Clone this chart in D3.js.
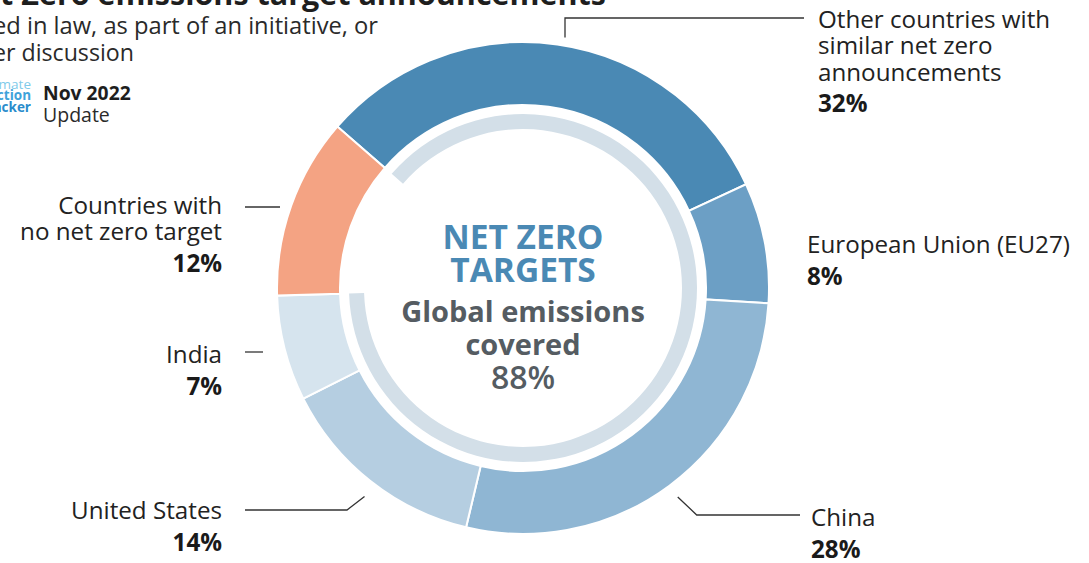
<!DOCTYPE html>
<html>
<head>
<meta charset="utf-8">
<script src="https://cdn.jsdelivr.net/npm/d3@7"></script>
<style>
  html, body { margin: 0; padding: 0; background: #fff; overflow: hidden; }
  svg { display: block; font-family: "Open Sans", "Noto Sans", sans-serif; }
</style>
</head>
<body>
<svg id="chart" width="1089" height="563"></svg>
<script>
// ---- data ----
const categories = ["Other countries with similar net zero announcements", "European Union (EU27)", "China", "United States", "India", "Countries with no net zero target"];
const values = [32, 8, 28, 14, 7, 12];
const covered = [true, true, true, true, true, false];
const coveredShare = 88;

// ---- styles ----
const colors = ["#4a89b4", "#6c9fc5", "#8fb6d3", "#b5cee1", "#d6e4ee", "#f4a383"];
const labelLines = [
  ["Other countries with", "similar net zero", "announcements"],
  ["European Union (EU27)"],
  ["China"],
  ["United States"],
  ["India"],
  ["Countries with", "no net zero target"]
];

const svg = d3.select("#chart");
const cx = 523, cy = 288;
const R = 246, r0 = 183;
const gR1 = 174, gR0 = 159;
const deg = Math.PI / 180;
const start = -49 * deg;

const pie = d3.pie().sort(null).value(d => d).startAngle(start).endAngle(start + 2 * Math.PI);
const arcs = pie(values);
const arc = d3.arc().innerRadius(r0).outerRadius(R);

const g = svg.append("g").attr("transform", `translate(${cx},${cy})`);

// grey inner ring covering the "covered" share
const coveredArcs = arcs.filter((a, i) => covered[i]);
const gStart = d3.min(coveredArcs, a => a.startAngle);
const gEnd = d3.max(coveredArcs, a => a.endAngle);
g.append("path")
  .attr("d", d3.arc().innerRadius(gR0).outerRadius(gR1).startAngle(gStart).endAngle(gEnd)())
  .attr("fill", "#d3dfe8");

g.selectAll("path.seg").data(arcs).join("path")
  .attr("class", "seg")
  .attr("d", arc)
  .attr("fill", (d, i) => colors[i])
  .attr("stroke", "#fff")
  .attr("stroke-width", 2);

// ---- title / subtitle (cropped at top-left, as in reference) ----
svg.append("text").attr("x", 606).attr("y", 5).attr("text-anchor", "end")
  .attr("font-size", 30.5).attr("font-weight", 700).attr("fill", "#1e1e1e")
  .text("Net Zero emissions target announcements");
svg.append("text").attr("x", 378).attr("y", 34).attr("text-anchor", "end")
  .attr("font-size", 23.7).attr("fill", "#2a2a2a")
  .text("Enshrined in law, as part of an initiative, or");
svg.append("text").attr("x", 134).attr("y", 61).attr("text-anchor", "end")
  .attr("font-size", 23.2).attr("fill", "#2a2a2a")
  .text("under discussion");

// logo
const logo = [["Climate", "#7fcbea", 400, 89], ["Action", "#3ea3da", 700, 100], ["Tracker", "#2a8ccc", 700, 111.5]];
logo.forEach(([t, c, w, y]) => {
  svg.append("text").attr("x", 31).attr("y", y).attr("text-anchor", "end")
    .attr("font-size", 13.5).attr("font-weight", w).attr("fill", c).text(t);
});
svg.append("text").attr("x", 43).attr("y", 100).attr("font-size", 19.3).attr("font-weight", 700).attr("fill", "#1e1e1e").text("Nov 2022");
svg.append("text").attr("x", 43).attr("y", 122).attr("font-size", 19.5).attr("fill", "#2a2a2a").text("Update");

// ---- center text ----
const ct = [
  ["NET ZERO", "#4a89b4", 700, 33.5, 249],
  ["TARGETS", "#4a89b4", 700, 33.5, 282],
  ["Global emissions", "#555c62", 700, 29, 322],
  ["covered", "#555c62", 700, 29, 355],
  [coveredShare + "%", "#555c62", 600, 32, 389]
];
ct.forEach(([t, c, w, s, y]) => {
  svg.append("text").attr("x", cx).attr("y", y).attr("text-anchor", "middle")
    .attr("font-size", s).attr("font-weight", w).attr("fill", c).text(t);
});

// ---- labels and leaders ----
const fs = 24.2, lh = 26.3;
const mid = a => (a.startAngle + a.endAngle) / 2;
const onRing = (a, rr) => [cx + Math.sin(mid(a)) * rr, cy - Math.cos(mid(a)) * rr];
const lineStyle = sel => sel.attr("fill", "none").attr("stroke", "#333").attr("stroke-width", 1.3);

// label layout: [x, firstBaseline, anchor, leader]
const layout = [
  { x: 818, y: 28, anchor: "start", leader: a => { const p = onRing(a, 257); return [[565, p[1] + 4], [565, 18], [804, 18]]; } },
  { x: 807, y: 253, anchor: "start", leader: null },
  { x: 811, y: 526, anchor: "start", leader: a => { const p = onRing(a, 260); return [p, [p[0] + 19, 515], [800, 515]]; } },
  { x: 222, y: 519, anchor: "end", leader: a => { const p = onRing(a, 262); return [[p[0] + 4, p[1] + 3], [347, 510], [245, 510]]; } },
  { x: 222, y: 363, anchor: "end", leader: () => [[245, 352], [263, 352]] },
  { x: 222, y: 214, anchor: "end", leader: () => [[245, 207], [280, 207]] }
];

arcs.forEach((a, i) => {
  const L = layout[i];
  const t = svg.append("text").attr("text-anchor", L.anchor).attr("font-size", fs).attr("fill", "#222");
  labelLines[i].forEach((ln, k) => {
    t.append("tspan").attr("x", L.x).attr("y", L.y + k * lh).text(ln);
  });
  svg.append("text").attr("text-anchor", L.anchor).attr("x", L.x)
    .attr("y", L.y + (labelLines[i].length - 1) * lh + 31.5)
    .attr("font-size", fs).attr("font-weight", 700).attr("fill", "#1a1a1a")
    .text(values[i] + "%");
  if (L.leader) {
    svg.append("path").attr("d", d3.line()(L.leader(a))).call(lineStyle);
  }
});
</script>
</body>
</html>
